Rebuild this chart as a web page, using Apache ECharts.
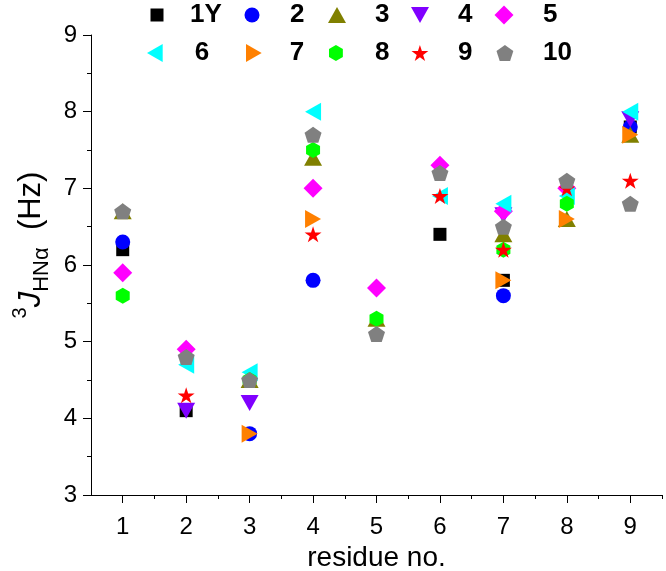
<!DOCTYPE html>
<html><head><meta charset="utf-8">
<script src="https://cdn.jsdelivr.net/npm/echarts@6/dist/echarts.min.js"></script>
<style>html,body{margin:0;padding:0;background:#fff}#c{width:666px;height:571px}</style>
</head><body><div id="c"></div>
<script>
// ---- data ----
const residues = [1, 2, 3, 4, 5, 6, 7, 8, 9];
const xTicks = [1, 2, 3, 4, 5, 6, 7, 8, 9];
const xMinorTicks = [1.5, 2.5, 3.5, 4.5, 5.5, 6.5, 7.5, 8.5, 9.5];
const yTicks = [3, 4, 5, 6, 7, 8, 9];
const seriesNames = ['1Y', '2', '3', '4', '5', '6', '7', '8', '9', '10'];
const s1Y = [6.2, 4.1, null, null, null, 6.4, 5.8, null, 7.8];
const s2  = [6.3, null, 3.8, 5.8, null, null, 5.6, null, 7.8];
const s3  = [6.7, null, 4.5, 7.4, 5.3, null, 6.4, 6.6, 7.7];
const s4  = [null, 4.1, 4.2, null, null, null, 6.65, null, 7.9];
const s5  = [5.9, 4.9, null, 7.0, 5.7, 7.3, 6.7, 7.0, null];
const s6  = [null, 4.7, 4.6, 8.0, null, 6.9, 6.8, 6.9, 8.0];
const s7  = [null, null, 3.8, 6.6, null, null, 5.8, 6.6, 7.7];
const s8  = [5.6, null, 4.5, 7.5, 5.3, null, 6.2, 6.8, null];
const s9  = [null, 4.3, null, 6.4, null, 6.9, 6.2, 7.0, 7.1];
const s10 = [6.7, 4.8, 4.5, 7.7, 5.1, 7.2, 6.5, 7.1, 6.8];
const seriesValues = [s1Y, s2, s3, s4, s5, s6, s7, s8, s9, s10];

// ---- styles ----
const FONT = 'Liberation Sans, Arial, sans-serif';
const colors = ['#000000', '#0000ff', '#808000', '#8000ff', '#ff00ff', '#00ffff', '#ff8000', '#00ff00', '#ff0000', '#808080'];
const symbols = [
  'path://M0,0H10V10H0Z',
  'path://M0,5A5,5,0,1,1,10,5A5,5,0,1,1,0,5Z',
  'path://M5,0L10,8.9L0,8.9Z',
  'path://M0,0L10,0L5,8.9Z',
  'path://M5,0L10,5L5,10L0,5Z',
  'path://M0,5L8.7,0L8.7,10Z',
  'path://M8.7,5L0,0L0,10Z',
  'path://M4.33,0L8.66,2.5L8.66,7.5L4.33,10L0,7.5L0,2.5Z',
  'path://M50,0L61.2,34.5L97.6,34.5L68.2,55.9L79.4,90.5L50,69.1L20.6,90.5L31.8,55.9L2.4,34.5L38.8,34.5Z',
  'path://M50,0L97.6,34.5L79.4,90.5L20.6,90.5L2.4,34.5Z'
];
const sizes = [[13,13],[15,15],[18,16],[18,16],[19,19],[16,18],[16,18],[14,16],[17,16],[17,16]];
// legend layout: [left, top, itemWidth]
const legendLayout = [
  [150.5, 1, 56], [244.5, 1, 66], [328, 1, 66], [411, 1, 66], [494.5, 1, 68],
  [147, 39, 70], [246, 39, 62], [329, 39, 68], [411.5, 39, 66], [496.5, 39, 66]
];

const series = seriesNames.map((name, i) => ({
  name: name,
  type: 'scatter',
  xAxisIndex: 0,
  yAxisIndex: 0,
  symbol: symbols[i],
  symbolSize: sizes[i],
  itemStyle: { color: colors[i], opacity: 1 },
  emphasis: { disabled: true },
  data: residues.map((r, j) => [r, seriesValues[i][j]]).filter(d => d[1] !== null)
}));

const legends = seriesNames.map((name, i) => ({
  data: [name],
  left: legendLayout[i][0],
  top: legendLayout[i][1],
  itemWidth: legendLayout[i][2],
  itemHeight: sizes[i][1],
  padding: 0,
  selectedMode: false,
  textStyle: { fontFamily: FONT, fontSize: 26, fontWeight: 'bold', color: '#000', lineHeight: 28 }
}));

const chart = echarts.init(document.getElementById('c'), null, { renderer: 'canvas' });
chart.setOption({
  animation: false,
  backgroundColor: '#fff',
  legend: legends,
  grid: { left: 91, right: 4, top: 35, bottom: 76, containLabel: false, outerBoundsMode: 'none' },
  xAxis: [{
    type: 'value', min: 0.5, max: 9.5, position: 'bottom',
    splitLine: { show: false },
    axisLine: { show: true, lineStyle: { color: '#000', width: 1 } },
    axisTick: { show: true, inside: false, length: 8, customValues: xTicks, lineStyle: { color: '#000' } },
    axisLabel: { customValues: xTicks, fontFamily: FONT, fontSize: 24, color: '#000', margin: 20 },
    name: 'residue no.', nameLocation: 'middle', nameGap: 44,
    nameTextStyle: { fontFamily: FONT, fontSize: 28, color: '#000' }
  }, {
    type: 'value', min: 0.5, max: 9.5, position: 'bottom', gridIndex: 0,
    splitLine: { show: false },
    axisLine: { show: false },
    axisTick: { show: true, inside: false, length: 4, customValues: xMinorTicks, lineStyle: { color: '#000' } },
    axisLabel: { show: false }
  }],
  yAxis: {
    type: 'value', min: 3, max: 9, interval: 1,
    splitLine: { show: false },
    axisLine: { show: true, lineStyle: { color: '#000', width: 1 } },
    axisTick: { show: true, inside: false, length: 8, lineStyle: { color: '#000' } },
    minorTick: { show: true, splitNumber: 2, length: 4, lineStyle: { color: '#000' } },
    axisLabel: { customValues: yTicks, fontFamily: FONT, fontSize: 24, color: '#000', margin: 14 },
    name: '{sup|3}{it|J}{sub|HN\u03b1}{rm|  (Hz)}',
    nameLocation: 'middle', nameGap: 32, nameRotate: 90,
    nameTextStyle: {
      fontFamily: FONT, fontSize: 31, color: '#000', padding: [0, 0, 0, 40],
      rich: {
        sup: { fontFamily: FONT, fontSize: 20, color: '#000', verticalAlign: 'top', lineHeight: 22 },
        it: { fontFamily: FONT, fontSize: 31, fontStyle: 'italic', color: '#000', lineHeight: 42, verticalAlign: 'middle' },
        sub: { fontFamily: FONT, fontSize: 22, color: '#000', verticalAlign: 'bottom', lineHeight: 22 },
        rm: { fontFamily: FONT, fontSize: 31, color: '#000', lineHeight: 42, verticalAlign: 'middle' }
      }
    }
  },
  series: series
});
</script>
</body></html>
